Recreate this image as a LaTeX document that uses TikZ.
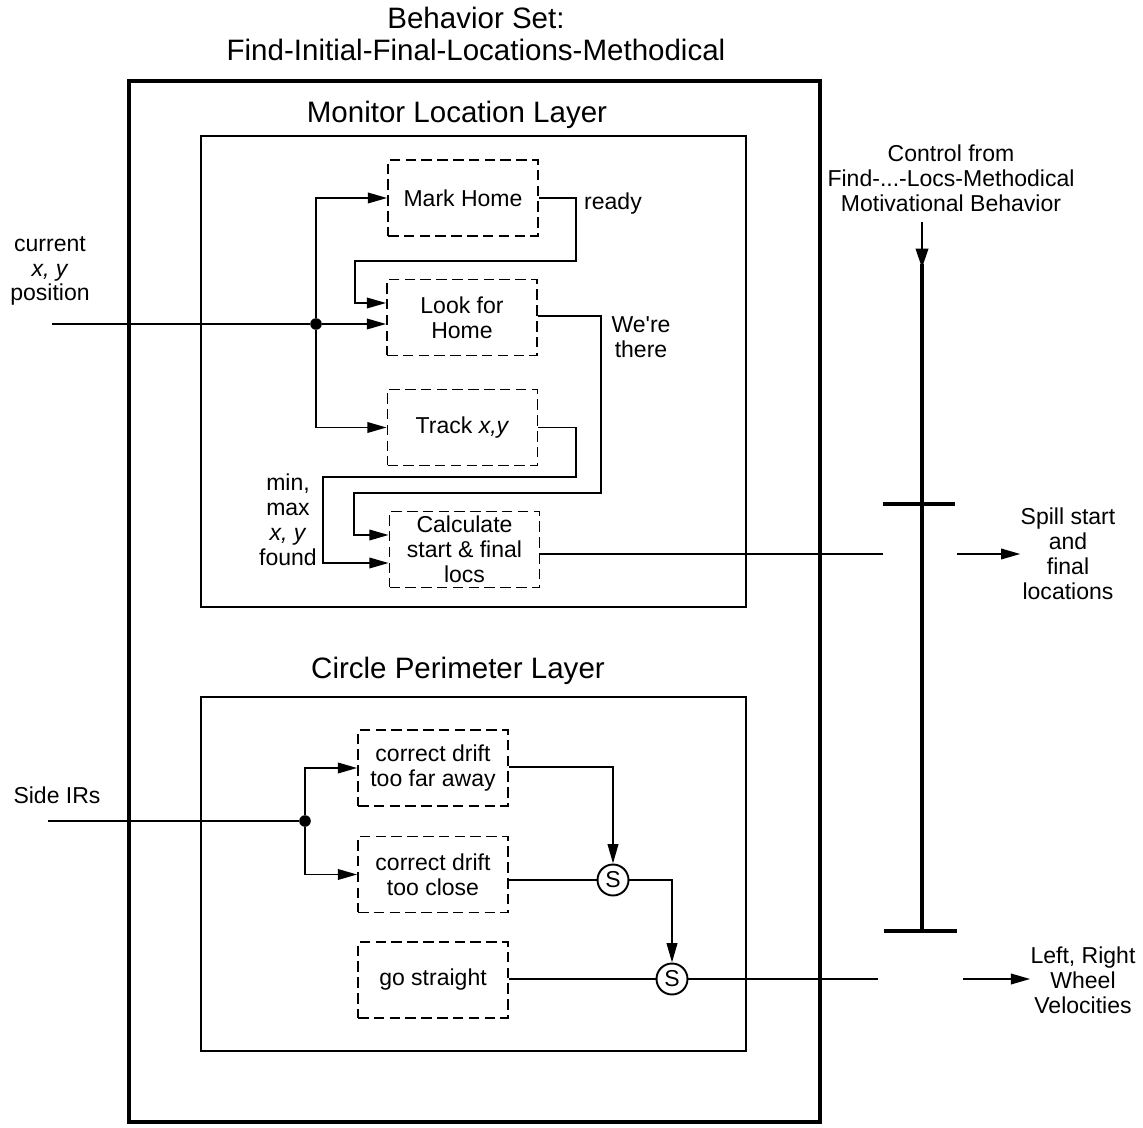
\documentclass[tikz,border=0pt]{standalone}
\usepackage{fontspec}
\setmainfont{Liberation Sans}[Ligatures=TeXOff]
\usetikzlibrary{arrows.meta}
\begin{document}
\begin{tikzpicture}[x=0.02cm,y=-0.02cm,
  lbl/.style={font=\fontsize{13.1pt}{14.2pt}\selectfont,align=center,inner sep=0pt},
  big/.style={font=\fontsize{16.8pt}{18.2pt}\selectfont,align=center,inner sep=0pt},
  behbox/.style={draw,line width=1pt,dash pattern=on 6pt off 3pt,
    minimum width=3cm,minimum height=1.52cm,inner sep=0pt,
    font=\fontsize{13.1pt}{14.2pt}\selectfont,align=center},
  wire/.style={line width=1.1pt},
  arr/.style={wire,-{Triangle[length=11pt,width=6pt]}},
  sup/.style={draw,circle,line width=1.1pt,minimum size=0.62cm,inner sep=0pt,
    font=\fontsize{13.1pt}{14.2pt}\selectfont},
  dot/.style={circle,fill,inner sep=0pt,minimum size=6.6pt},
  bar/.style={line width=2.4pt}]
\useasboundingbox (0,0) rectangle (1143,1128);

% title and containers
\node[big] (title) at (476,34) {Behavior Set:\\Find-Initial-Final-Locations-Methodical};
\draw[line width=2.8pt] (129,81) rectangle (820,1122);
\node[big] (mtitle) at (457,115) {Monitor Location Layer};
\draw[line width=1.1pt] (201,136) rectangle (746,607);
\node[big] (ctitle) at (458,671) {Circle Perimeter Layer};
\draw[line width=1.1pt] (201,697) rectangle (746,1051);

% monitor location layer behaviors
\node[behbox] (mark) at (463,198) {Mark Home};
\node[behbox] (look) at (462,317.5) {Look for\\Home};
\node[behbox] (track) at (462.5,427.5) {Track \textit{x,y}};
\node[behbox] (calc) at (464.5,549.5) {Calculate\\start \& final\\locs};

% circle perimeter layer behaviors
\node[behbox] (far) at (433,768) {correct drift\\too far away};
\node[behbox] (close) at (433,874.5) {correct drift\\too close};
\node[behbox] (straight) at (433,980) {go straight};
\node[sup] (s1) at (613,880) {S};
\node[sup] (s2) at (672,979) {S};

% outside labels
\node[lbl] (xylbl) at (50,271) {current\\\textit{x, y}\\position};
\node[lbl] (irlbl) at (57,795) {Side IRs};
\node[lbl] (ready) at (613,204) {ready};
\node[lbl] (there) at (641,337) {We're\\there};
\node[lbl] (minmax) at (288,520) {min,\\max\\\textit{x, y}\\found};
\node[lbl] (ctl) at (951,178) {Control from\\Find-...-Locs-Methodical\\Motivational Behavior};
\node[lbl] (spill) at (1068,554) {Spill start\\and\\final\\locations};
\node[lbl] (vel) at (1083,980) {Left, Right\\Wheel\\Velocities};

% position input fan-out
\coordinate (xyin) at (52,324);
\node[dot] (j1) at (316,324) {};
\draw[wire] (xyin) -- (j1);
\draw[arr] (j1) -- (look.west |- j1);
\draw[arr] (j1) |- (mark.west);
\draw[arr] (j1) |- (track.west);

% inter-behavior links
\draw[arr] (mark.east) -| (576,261) -| (355,303) -- (look.west |- 0,303);
\draw[arr] (look.east |- 0,316) -| (601,493) -| (354,535) -- (calc.west |- 0,535);
\draw[arr] (track.east) -| (576,477) -| (323,563) -- (calc.west |- 0,563);

% spill output through the control gate
\coordinate (spillcut) at (883,554);
\coordinate (spillout) at (957,554);
\draw[wire] (calc.east |- 0,554) -- (spillcut);
\draw[arr] (spillout) -- (spill.west |- spillout);

% side IR input fan-out
\coordinate (irin) at (48,821);
\node[dot] (j2) at (305,821) {};
\draw[wire] (irin) -- (j2);
\draw[arr] (j2) |- (far.west);
\draw[arr] (j2) |- (close.west);

% suppression chain
\draw[arr] (far.east |- 0,767) -| (s1.north);
\draw[wire] (close.east |- s1) -- (s1.west);
\draw[arr] (s1.east) -| (s2.north);
\draw[wire] (straight.east |- s2) -- (s2.west);
\coordinate (velcut) at (878,979);
\coordinate (velout) at (963,979);
\draw[wire] (s2.east) -- (velcut);
\draw[arr] (velout) -- (vel.west |- velout);

% motivational control line with its gates
\coordinate (ctltop) at (922,222);
\coordinate (ctlbot) at (922,931);
\draw[line width=1.5pt,-{Triangle[length=11pt,width=7pt]}] (ctltop) -- (922,268);
\draw[bar] (922,264) -- (ctlbot);
\draw[bar] (883,504) -- (955,504);
\draw[bar] (884,931) -- (957,931);
\end{tikzpicture}
\end{document}
